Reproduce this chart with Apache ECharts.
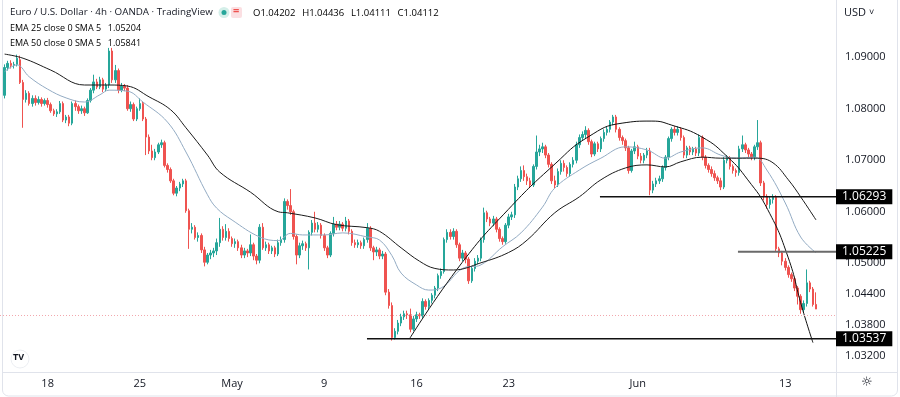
<!DOCTYPE html>
<html>
<head>
<meta charset="utf-8">
<title>EUR/USD 4h</title>
<script src="https://cdn.jsdelivr.net/npm/echarts@6/dist/echarts.min.js"></script>
<style>
  html, body { margin: 0; padding: 0; background: #fff; }
  #chart { width: 900px; height: 397px; }
</style>
</head>
<body>
<div id="chart"></div>
<script>
// ---- data ----
// bar slots on the time scale (4h bars, 30 per week)
const barCount = 272;
const dateTickIndex = [15, 45, 75, 105, 135, 165, 207, 255];
const dateTickLabel = ["18", "25", "May", "9", "16", "23", "Jun", "13"];

// price axis labels
const priceTicks = [1.032, 1.038, 1.044, 1.05, 1.06, 1.07, 1.08, 1.09];

// candles: [open, close, low, high]
const ohlc = [
  "-",
  [1.0826,1.0880,1.0820,1.0886],[1.0880,1.0888,1.0874,1.0893],[1.0888,1.0884,1.0878,1.0894],[1.0884,1.0886,1.0878,1.0891],
  [1.0886,1.0898,1.0882,1.0905],[1.0895,1.0851,1.0848,1.0903],[1.0851,1.0818,1.0763,1.0856],[1.0818,1.0830,1.0812,1.0836],
  [1.0830,1.0810,1.0806,1.0834],[1.0810,1.0820,1.0804,1.0826],[1.0820,1.0812,1.0806,1.0826],[1.0812,1.0818,1.0808,1.0824],
  [1.0818,1.0810,1.0804,1.0822],[1.0810,1.0816,1.0806,1.0820],[1.0816,1.0808,1.0802,1.0821],[1.0808,1.0796,1.0792,1.0812],
  [1.0796,1.0790,1.0786,1.0800],[1.0790,1.0794,1.0784,1.0799],[1.0794,1.0810,1.0790,1.0815],[1.0810,1.0778,1.0774,1.0814],
  [1.0778,1.0784,1.0772,1.0788],[1.0784,1.0772,1.0766,1.0788],[1.0772,1.0810,1.0768,1.0814],[1.0810,1.0804,1.0796,1.0816],
  [1.0804,1.0796,1.0790,1.0808],[1.0796,1.0800,1.0790,1.0806],[1.0800,1.0792,1.0786,1.0804],[1.0792,1.0816,1.0790,1.0820],
  [1.0816,1.0836,1.0812,1.0840],[1.0836,1.0852,1.0830,1.0866],[1.0852,1.0842,1.0838,1.0858],[1.0842,1.0856,1.0838,1.0862],
  [1.0856,1.0838,1.0832,1.0860],[1.0838,1.0846,1.0834,1.0850],[1.0846,1.0912,1.0840,1.0918],[1.0912,1.0856,1.0850,1.0918],
  [1.0856,1.0874,1.0850,1.0885],[1.0874,1.0836,1.0830,1.0878],[1.0836,1.0844,1.0832,1.0850],[1.0844,1.0840,1.0834,1.0848],
  [1.0840,1.0800,1.0796,1.0846],[1.0800,1.0808,1.0794,1.0814],[1.0808,1.0780,1.0776,1.0812],[1.0780,1.0800,1.0776,1.0804],
  [1.0800,1.0810,1.0796,1.0820],[1.0810,1.0780,1.0776,1.0814],[1.0780,1.0745,1.0710,1.0784],[1.0745,1.0718,1.0712,1.0750],
  [1.0718,1.0705,1.0700,1.0730],[1.0705,1.0716,1.0700,1.0722],[1.0716,1.0730,1.0712,1.0734],[1.0730,1.0734,1.0724,1.0740],
  [1.0734,1.0690,1.0686,1.0738],[1.0690,1.0682,1.0676,1.0694],[1.0682,1.0660,1.0656,1.0686],[1.0660,1.0636,1.0632,1.0664],
  [1.0636,1.0646,1.0630,1.0650],[1.0646,1.0654,1.0640,1.0658],[1.0654,1.0660,1.0648,1.0664],[1.0660,1.0602,1.0598,1.0664],
  [1.0602,1.0566,1.0528,1.0606],[1.0566,1.0570,1.0558,1.0578],[1.0570,1.0550,1.0546,1.0574],[1.0550,1.0554,1.0542,1.0560],
  [1.0554,1.0526,1.0520,1.0558],[1.0526,1.0502,1.0494,1.0532],[1.0502,1.0516,1.0498,1.0520],[1.0516,1.0520,1.0508,1.0526],
  [1.0520,1.0524,1.0512,1.0530],[1.0524,1.0540,1.0516,1.0548],[1.0540,1.0566,1.0532,1.0588],[1.0566,1.0550,1.0544,1.0572],
  [1.0550,1.0562,1.0544,1.0576],[1.0562,1.0548,1.0542,1.0568],[1.0548,1.0538,1.0532,1.0552],[1.0538,1.0542,1.0530,1.0548],
  [1.0542,1.0530,1.0524,1.0546],[1.0530,1.0516,1.0510,1.0536],[1.0516,1.0524,1.0510,1.0530],[1.0524,1.0520,1.0512,1.0528],
  [1.0520,1.0536,1.0514,1.0556],[1.0536,1.0514,1.0506,1.0540],[1.0514,1.0506,1.0498,1.0518],[1.0506,1.0570,1.0500,1.0576],
  [1.0570,1.0530,1.0526,1.0578],[1.0530,1.0536,1.0524,1.0542],[1.0536,1.0524,1.0518,1.0540],[1.0524,1.0530,1.0518,1.0534],
  [1.0530,1.0518,1.0512,1.0534],[1.0518,1.0540,1.0514,1.0546],[1.0540,1.0546,1.0534,1.0552],[1.0546,1.0620,1.0540,1.0626],
  [1.0620,1.0612,1.0604,1.0624],[1.0612,1.0600,1.0594,1.0644],[1.0600,1.0552,1.0546,1.0604],[1.0552,1.0516,1.0498,1.0556],
  [1.0516,1.0534,1.0510,1.0540],[1.0534,1.0538,1.0526,1.0544],[1.0538,1.0530,1.0524,1.0542],[1.0530,1.0560,1.0488,1.0564],
  [1.0560,1.0578,1.0554,1.0584],[1.0578,1.0566,1.0560,1.0600],[1.0566,1.0574,1.0560,1.0580],[1.0574,1.0554,1.0548,1.0578],
  [1.0554,1.0530,1.0524,1.0558],[1.0530,1.0516,1.0510,1.0534],[1.0516,1.0558,1.0512,1.0562],[1.0558,1.0576,1.0552,1.0590],
  [1.0576,1.0570,1.0564,1.0582],[1.0570,1.0576,1.0564,1.0582],[1.0576,1.0568,1.0562,1.0580],[1.0568,1.0582,1.0562,1.0590],
  [1.0582,1.0562,1.0556,1.0586],[1.0562,1.0540,1.0534,1.0566],[1.0540,1.0536,1.0530,1.0546],[1.0536,1.0540,1.0530,1.0546],
  [1.0540,1.0534,1.0528,1.0544],[1.0534,1.0546,1.0528,1.0550],[1.0546,1.0568,1.0540,1.0578],[1.0568,1.0530,1.0524,1.0572],
  [1.0530,1.0522,1.0506,1.0534],[1.0522,1.0526,1.0514,1.0532],[1.0526,1.0514,1.0508,1.0530],[1.0514,1.0518,1.0508,1.0524],
  [1.0518,1.0444,1.0438,1.0522],[1.0444,1.0418,1.0412,1.0450],[1.0418,1.0356,1.0350,1.0424],[1.0356,1.0368,1.0352,1.0374],
  [1.0368,1.0384,1.0362,1.0390],[1.0384,1.0396,1.0378,1.0402],[1.0396,1.0402,1.0390,1.0408],[1.0402,1.0400,1.0392,1.0408],
  [1.0400,1.0372,1.0366,1.0412],[1.0372,1.0392,1.0368,1.0398],[1.0392,1.0400,1.0386,1.0406],[1.0400,1.0398,1.0392,1.0404],
  [1.0398,1.0426,1.0394,1.0432],[1.0426,1.0416,1.0410,1.0430],[1.0416,1.0428,1.0410,1.0432],[1.0428,1.0438,1.0422,1.0442],
  [1.0438,1.0452,1.0432,1.0456],[1.0452,1.0476,1.0446,1.0480],[1.0476,1.0484,1.0470,1.0490],[1.0484,1.0546,1.0480,1.0550],
  [1.0546,1.0560,1.0540,1.0566],[1.0560,1.0552,1.0546,1.0566],[1.0552,1.0562,1.0546,1.0568],[1.0562,1.0536,1.0530,1.0566],
  [1.0536,1.0510,1.0504,1.0540],[1.0510,1.0520,1.0504,1.0526],[1.0520,1.0508,1.0500,1.0524],[1.0508,1.0466,1.0460,1.0512],
  [1.0466,1.0490,1.0462,1.0494],[1.0490,1.0504,1.0484,1.0510],[1.0504,1.0510,1.0498,1.0516],[1.0510,1.0546,1.0504,1.0550],
  [1.0546,1.0598,1.0540,1.0608],[1.0598,1.0586,1.0580,1.0602],[1.0586,1.0578,1.0572,1.0590],[1.0578,1.0586,1.0572,1.0592],
  [1.0586,1.0566,1.0560,1.0590],[1.0566,1.0548,1.0542,1.0570],[1.0548,1.0542,1.0536,1.0552],[1.0542,1.0574,1.0538,1.0578],
  [1.0574,1.0590,1.0568,1.0596],[1.0590,1.0594,1.0584,1.0600],[1.0594,1.0648,1.0588,1.0654],[1.0648,1.0664,1.0642,1.0670],
  [1.0664,1.0680,1.0658,1.0688],[1.0680,1.0668,1.0660,1.0690],[1.0668,1.0660,1.0652,1.0674],[1.0660,1.0652,1.0646,1.0666],
  [1.0652,1.0688,1.0648,1.0692],[1.0688,1.0716,1.0682,1.0748],[1.0716,1.0722,1.0708,1.0730],[1.0722,1.0726,1.0714,1.0734],
  [1.0726,1.0710,1.0704,1.0730],[1.0710,1.0692,1.0686,1.0714],[1.0692,1.0660,1.0654,1.0696],[1.0660,1.0652,1.0646,1.0670],
  [1.0652,1.0678,1.0648,1.0684],[1.0678,1.0694,1.0672,1.0700],[1.0694,1.0686,1.0678,1.0700],[1.0686,1.0674,1.0668,1.0690],
  [1.0674,1.0692,1.0668,1.0696],[1.0692,1.0700,1.0686,1.0706],[1.0700,1.0730,1.0694,1.0736],[1.0730,1.0744,1.0724,1.0750],
  [1.0744,1.0750,1.0738,1.0756],[1.0750,1.0758,1.0742,1.0766],[1.0758,1.0736,1.0730,1.0762],[1.0736,1.0712,1.0706,1.0740],
  [1.0712,1.0732,1.0708,1.0736],[1.0732,1.0722,1.0716,1.0736],[1.0722,1.0742,1.0716,1.0746],[1.0742,1.0754,1.0736,1.0760],
  [1.0754,1.0760,1.0748,1.0766],[1.0760,1.0774,1.0754,1.0778],[1.0774,1.0784,1.0768,1.0788],[1.0784,1.0760,1.0754,1.0788],
  [1.0760,1.0744,1.0738,1.0764],[1.0744,1.0738,1.0730,1.0748],[1.0738,1.0724,1.0718,1.0742],[1.0724,1.0680,1.0674,1.0728],
  [1.0680,1.0718,1.0676,1.0722],[1.0718,1.0726,1.0712,1.0736],[1.0726,1.0708,1.0702,1.0730],[1.0708,1.0700,1.0694,1.0714],
  [1.0700,1.0710,1.0694,1.0714],[1.0710,1.0718,1.0704,1.0724],[1.0718,1.0642,1.0632,1.0724],[1.0642,1.0654,1.0636,1.0660],
  [1.0654,1.0660,1.0648,1.0666],[1.0660,1.0664,1.0654,1.0670],[1.0664,1.0686,1.0658,1.0690],[1.0686,1.0706,1.0680,1.0710],
  [1.0706,1.0742,1.0700,1.0746],[1.0742,1.0760,1.0736,1.0764],[1.0760,1.0754,1.0748,1.0766],[1.0754,1.0760,1.0748,1.0766],
  [1.0760,1.0744,1.0738,1.0764],[1.0744,1.0710,1.0704,1.0748],[1.0710,1.0724,1.0704,1.0728],[1.0724,1.0716,1.0710,1.0728],
  [1.0716,1.0722,1.0710,1.0726],[1.0722,1.0714,1.0708,1.0726],[1.0714,1.0744,1.0708,1.0750],[1.0744,1.0706,1.0700,1.0748],
  [1.0706,1.0690,1.0684,1.0710],[1.0690,1.0682,1.0676,1.0694],[1.0682,1.0674,1.0668,1.0688],[1.0674,1.0666,1.0660,1.0680],
  [1.0666,1.0660,1.0654,1.0670],[1.0660,1.0648,1.0642,1.0666],[1.0648,1.0700,1.0644,1.0706],[1.0700,1.0704,1.0694,1.0710],
  [1.0704,1.0688,1.0682,1.0708],[1.0688,1.0680,1.0674,1.0692],[1.0680,1.0676,1.0668,1.0684],[1.0676,1.0722,1.0670,1.0728],
  [1.0722,1.0730,1.0716,1.0748],[1.0730,1.0720,1.0714,1.0734],[1.0720,1.0712,1.0706,1.0724],[1.0712,1.0706,1.0700,1.0716],
  [1.0706,1.0726,1.0700,1.0730],[1.0726,1.0734,1.0720,1.0778],[1.0734,1.0656,1.0650,1.0738],[1.0656,1.0630,1.0622,1.0660],
  [1.0630,1.0614,1.0606,1.0634],[1.0614,1.0624,1.0606,1.0630],[1.0624,1.0628,1.0616,1.0634],[1.0628,1.0528,1.0522,1.0632],
  [1.0528,1.0520,1.0512,1.0532],[1.0520,1.0504,1.0496,1.0524],[1.0504,1.0492,1.0486,1.0510],[1.0492,1.0478,1.0472,1.0496],
  [1.0478,1.0470,1.0464,1.0482],[1.0470,1.0452,1.0446,1.0474],[1.0452,1.0436,1.0420,1.0456],[1.0436,1.0410,1.0402,1.0440],
  [1.0410,1.0422,1.0404,1.0428],[1.0422,1.0462,1.0416,1.0488],[1.0462,1.0450,1.0444,1.0466],[1.0450,1.0420,1.0416,1.0454],
  [1.04202,1.04112,1.04111,1.04436]
];

// moving averages, [bar index, price] read at points along each line
const ema25Points = [
  [1,1.0872],[5,1.0885],[9,1.0862],[15,1.0838],[21,1.0821],[27,1.0813],[32,1.0827],[35,1.0836],
  [41,1.0834],[46,1.0813],[54,1.0774],[60,1.0716],[67,1.0633],[70,1.0607],[75,1.0584],[84,1.0551],
  [90,1.0544],[94,1.0558],[98,1.0555],[105,1.0555],[111,1.0559],[119,1.0551],[123,1.0545],[127,1.0515],
  [130,1.0481],[135,1.0458],[139,1.0448],[143,1.0452],[150,1.0490],[156,1.0497],[163,1.0532],[169,1.0559],
  [176,1.0609],[180,1.0646],[188,1.0681],[195,1.0704],[203,1.0726],[210,1.0720],[216,1.0704],[221,1.0716],
  [228,1.0724],[234,1.0710],[239,1.0704],[245,1.0706],[249,1.0681],[255,1.0617],[260,1.0551],[265,1.05204]
];
const ema50Points = [
  [1,1.0906],[7,1.0898],[16,1.0875],[27,1.0846],[35,1.0846],[41,1.0844],[48,1.0823],[55,1.0798],
  [60,1.0763],[67,1.0710],[71,1.0677],[81,1.0638],[90,1.0600],[93,1.0598],[102,1.0588],[109,1.0575],
  [119,1.0569],[123,1.0562],[130,1.0530],[136,1.0504],[141,1.0490],[147,1.0487],[156,1.0501],[165,1.0521],
  [171,1.0545],[180,1.0598],[188,1.0629],[195,1.0662],[203,1.0685],[210,1.0691],[216,1.0687],[221,1.0697],
  [228,1.0706],[234,1.0704],[241,1.0704],[246,1.0704],[251,1.0695],[256,1.0662],[260,1.0629],[265,1.05841]
];

// hand-drawn arc, [bar index, price]
const arcPoints = [
  [132.9,1.0355],[149.8,1.0501],[164.8,1.0604],[180.1,1.0693],[190.8,1.0745],[201.9,1.0772],
  [211.6,1.0776],[218.1,1.0768],[227.9,1.0745],[236.3,1.0706],[242.8,1.0662],[249.3,1.0604],
  [255.9,1.0512],[260.4,1.0415],[264,1.0346]
];

// horizontal levels and the bar where each starts
const levelValues = [1.06293, 1.05225, 1.03537];
const levelStart = [194.7, 239.6, 118.9];

// ---- chart ----
const FONT = '"Open Sans", sans-serif';
const categories = [];
for (let i = 0; i < barCount; i++) {
  const k = dateTickIndex.indexOf(i);
  categories.push(k >= 0 ? dateTickLabel[k] : "");
}
const lastBar = ohlc[ohlc.length - 1];
const levelColors = ["#111", "#6a6a6a", "#111"];
const levelWidths = [1.5, 2, 1.5];

const levelSeries = levelValues.map((v, k) => ({
  type: "line",
  xAxisIndex: 1,
  data: [[levelStart[k], v], [barCount - 0.5, v]],
  symbol: "none",
  silent: true,
  z: 4,
  lineStyle: { color: levelColors[k], width: levelWidths[k] },
  endLabel: {
    show: true,
    distance: 0,
    formatter: () => v.toFixed(5),
    color: "#fff",
    backgroundColor: "#000",
    fontFamily: FONT,
    fontSize: 12,
    padding: [2, 6, 1, 6]
  }
}));

const chart = echarts.init(document.getElementById("chart"));

const option = {
  animation: false,
  textStyle: { fontFamily: FONT },
  grid: { left: 0, right: 64, top: 0, bottom: 25 },
  xAxis: [
    {
      type: "category",
      data: categories,
      boundaryGap: true,
      axisLine: { show: false },
      axisTick: { show: false },
      axisLabel: {
        interval: (idx, val) => val !== "",
        color: "#131722",
        fontSize: 11,
        margin: 6
      },
      splitLine: { show: false }
    },
    {
      type: "value",
      min: -0.5,
      max: barCount - 0.5,
      show: false
    }
  ],
  yAxis: {
    type: "value",
    position: "right",
    min: 1.0289,
    max: 1.1011,
    axisLine: { show: false },
    axisTick: { show: false },
    splitLine: { show: false },
    axisLabel: {
      customValues: priceTicks,
      formatter: v => v.toFixed(5),
      color: "#131722",
      fontSize: 11,
      margin: 9
    }
  },
  series: [
    {
      name: "EUR/USD",
      type: "candlestick",
      data: ohlc,
      barWidth: 2,
      z: 3,
      itemStyle: {
        color: "#26a69a",
        color0: "#ef5350",
        borderColor: "#26a69a",
        borderColor0: "#ef5350",
        borderWidth: 1
      },
      markLine: {
        silent: true,
        symbol: ["none", "none"],
        label: { show: false },
        lineStyle: { color: "#f2a7ad", type: [1, 2], width: 1 },
        data: [{ yAxis: lastBar[1] }]
      }
    },
    {
      name: "EMA 25",
      type: "line",
      xAxisIndex: 1,
      data: ema25Points,
      smooth: 0.4,
      symbol: "none",
      z: 4,
      lineStyle: { color: "#93abc3", width: 1 }
    },
    {
      name: "EMA 50",
      type: "line",
      xAxisIndex: 1,
      data: ema50Points,
      smooth: 0.4,
      symbol: "none",
      z: 4,
      lineStyle: { color: "#1b1b1b", width: 1 }
    },
    {
      name: "Arc",
      type: "line",
      xAxisIndex: 1,
      data: arcPoints,
      smooth: 0.5,
      symbol: "none",
      z: 4,
      lineStyle: { color: "#111", width: 1 }
    },
    ...levelSeries
  ],
  graphic: [
    // panel frame and separators
    { type: "rect", shape: { x: 2.5, y: -6, width: 895, height: 402, r: 6 }, style: { fill: "none", stroke: "#e0e3eb", lineWidth: 1 }, silent: true },
    { type: "line", shape: { x1: 836.5, y1: 0, x2: 836.5, y2: 397 }, style: { stroke: "#e0e3eb", lineWidth: 1 }, silent: true },
    { type: "line", shape: { x1: 3, y1: 372.5, x2: 897, y2: 372.5 }, style: { stroke: "#e0e3eb", lineWidth: 1 }, silent: true },
    // header
    { type: "text", left: 10, top: 7, style: { text: "Euro / U.S. Dollar · 4h · OANDA · TradingView", font: '9.8px ' + FONT, fill: "#131722" } },
    { type: "circle", shape: { cx: 224, cy: 12.5, r: 5.5 }, style: { fill: "#d4efe9" } },
    { type: "circle", shape: { cx: 224, cy: 12.5, r: 2.5 }, style: { fill: "#26a69a" } },
    { type: "rect", shape: { x: 231, y: 7, width: 11, height: 11, r: 2 }, style: { fill: "#fbdfe2" } },
    { type: "text", left: 233, top: 5, style: { text: "=", font: 'bold 11px ' + FONT, fill: "#ef5350" } },
    {
      type: "text", left: 253, top: 7,
      style: {
        text: "{k|O}{v|" + lastBar[0].toFixed(5) + "}  {k|H}{v|" + lastBar[3].toFixed(5) + "}  {k|L}{v|" + lastBar[2].toFixed(5) + "}  {k|C}{v|" + lastBar[1].toFixed(5) + "}",
        rich: {
          k: { fontSize: 9.5, fontFamily: FONT, color: "#e08a8a" },
          v: { fontSize: 9.5, fontFamily: FONT, color: "#ef5350" }
        }
      }
    },
    {
      type: "text", left: 10, top: 22,
      style: {
        text: "{k|EMA 25 close 0 SMA 5}  {v|" + ema25Points[ema25Points.length - 1][1].toFixed(5) + "}",
        rich: {
          k: { fontSize: 9, fontFamily: FONT, color: "#131722" },
          v: { fontSize: 9, fontFamily: FONT, color: "#5e7fa3" }
        }
      }
    },
    {
      type: "text", left: 10, top: 37,
      style: {
        text: "{k|EMA 50 close 0 SMA 5}  {v|" + ema50Points[ema50Points.length - 1][1].toFixed(5) + "}",
        rich: {
          k: { fontSize: 9, fontFamily: FONT, color: "#131722" },
          v: { fontSize: 9, fontFamily: FONT, color: "#131722" }
        }
      }
    },
    { type: "text", left: 844, top: 7, style: { text: "USD", font: '11px ' + FONT, fill: "#131722" } },
    { type: "text", left: 869, top: 8, style: { text: "˅", font: '9px ' + FONT, fill: "#131722" } },
    // TV logo and settings icon
    { type: "circle", shape: { cx: 20, cy: 359, r: 9 }, style: { fill: "#fff", stroke: "#eceef2", lineWidth: 1 } },
    { type: "text", left: 13, top: 353, style: { text: "TV", font: 'bold 9px ' + FONT, fill: "#131722" } },
    { type: "text", left: 861, top: 376, style: { text: "☼", font: '13px "DejaVu Sans"', fill: "#131722" } }
  ]
};

chart.setOption(option);
window.addEventListener("resize", chart.resize);
</script>
</body>
</html>
